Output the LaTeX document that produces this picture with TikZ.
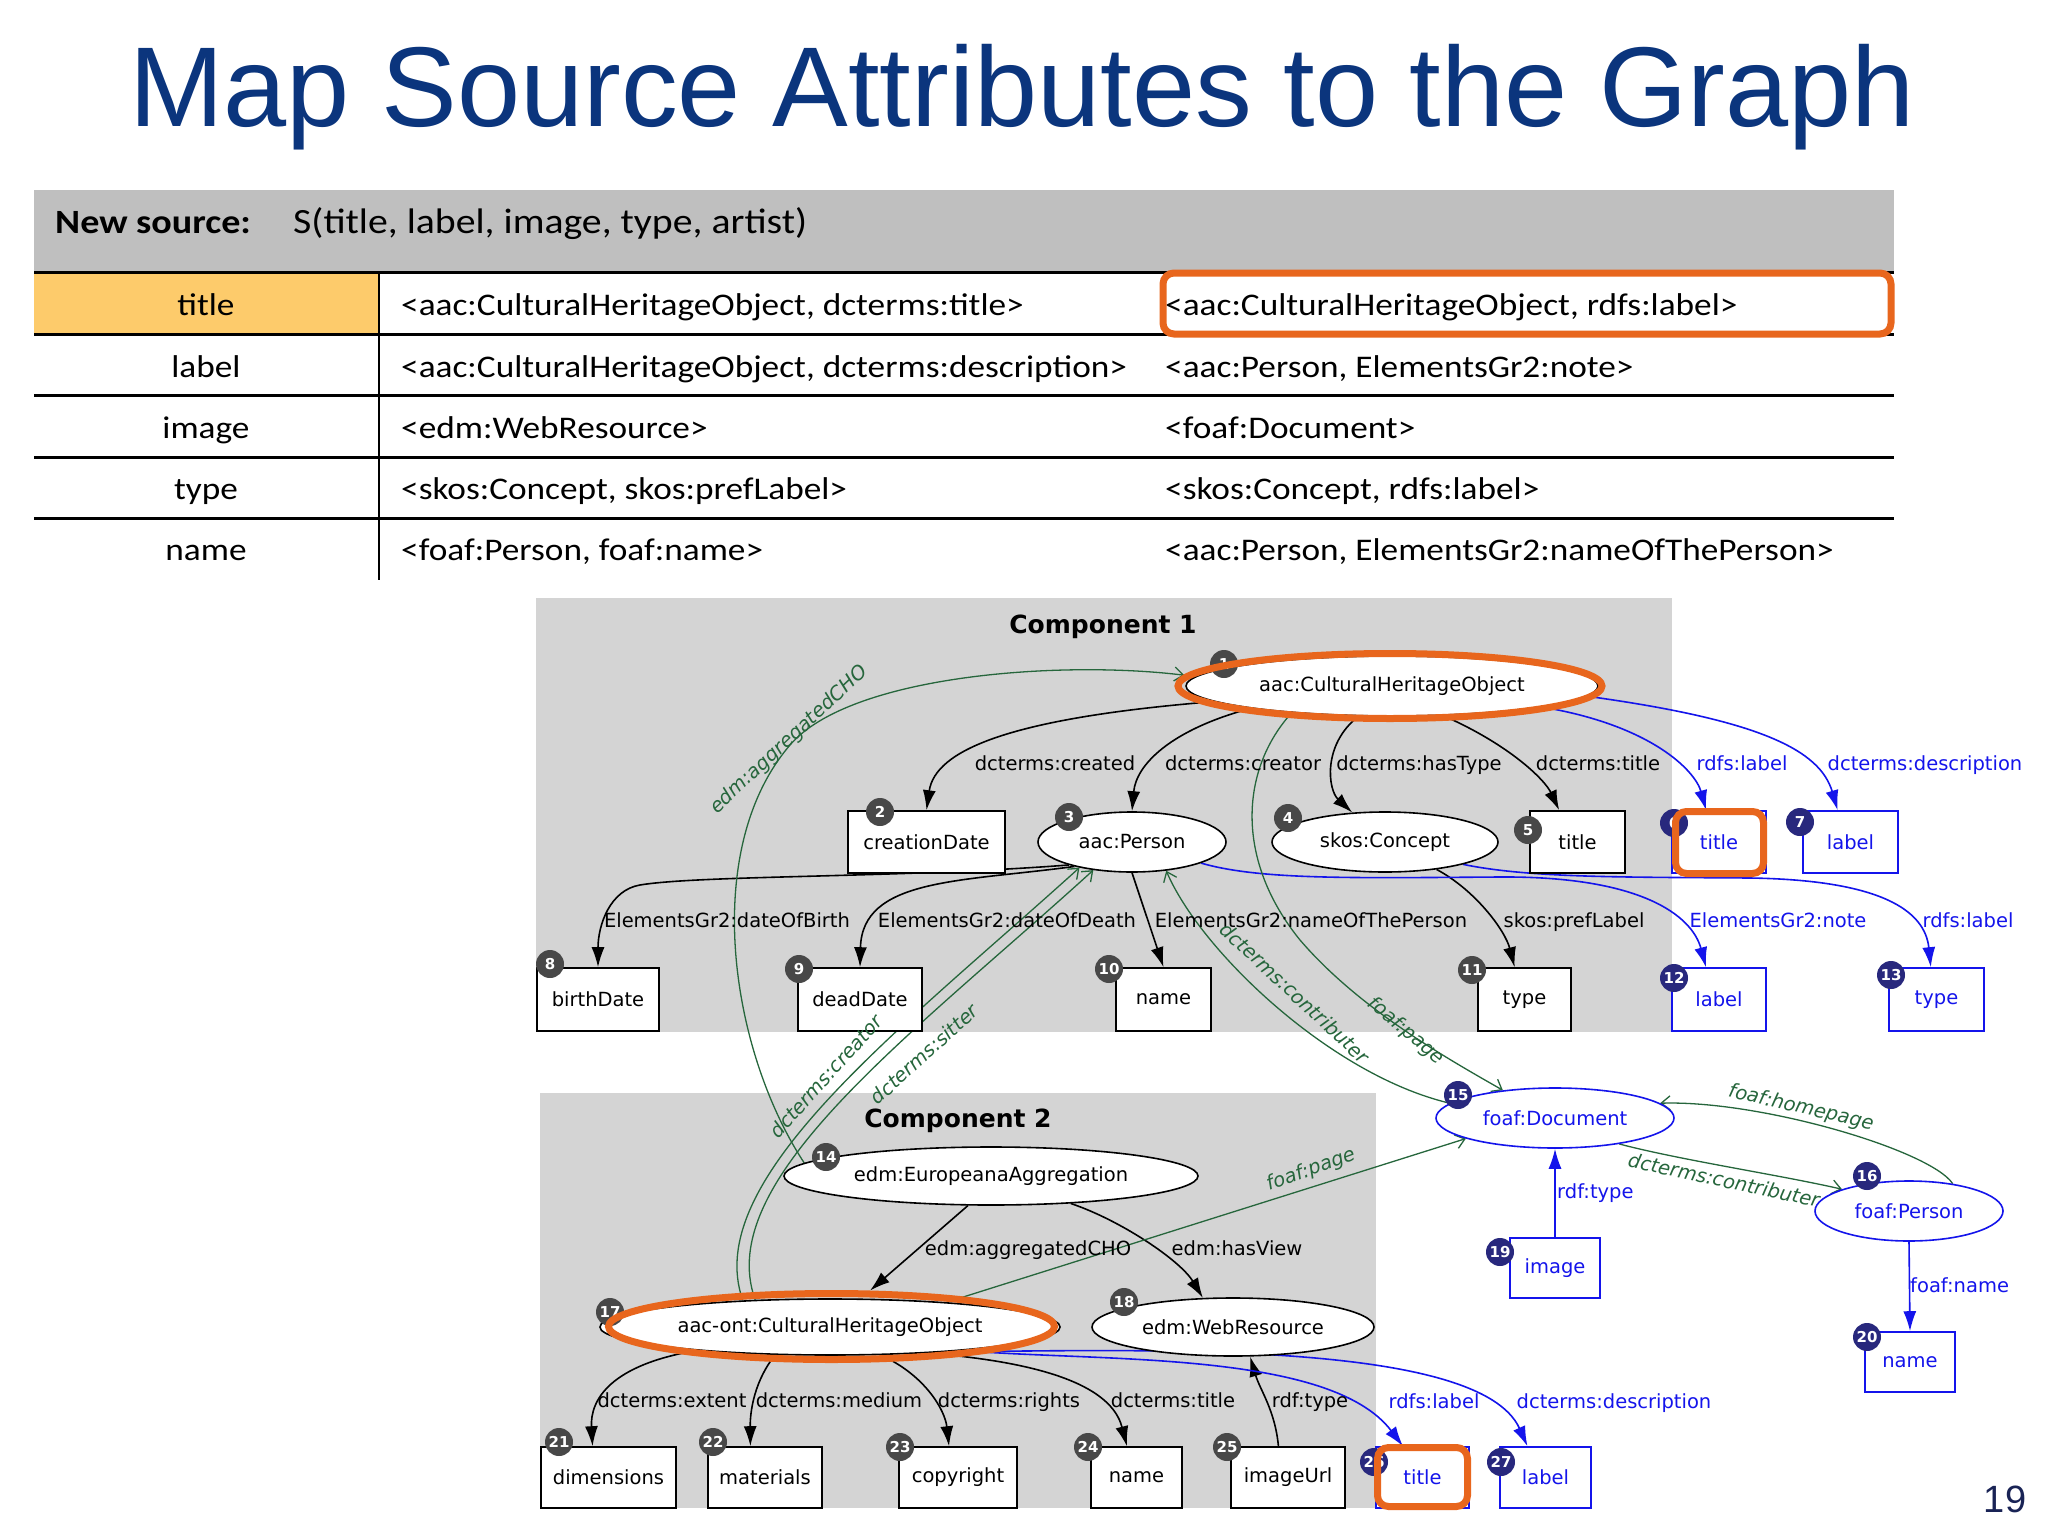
\documentclass[tikz,border=0pt]{standalone}
\usepackage{fontspec}
\setmainfont{DejaVu Sans}
\newfontfamily\titlefont{Liberation Sans}
\newfontfamily\tabfont{Carlito}[FakeStretch=1.12]
\usetikzlibrary{shapes.geometric,arrows.meta}
\definecolor{titleblue}{RGB}{11,53,125}
\definecolor{hdrgrey}{RGB}{191,191,191}
\definecolor{compgrey}{RGB}{212,212,212}
\definecolor{hlorange}{RGB}{232,102,29}
\definecolor{cellorange}{RGB}{253,203,107}
\definecolor{edgegreen}{RGB}{38,102,60}
\definecolor{eblue}{RGB}{20,20,235}
\definecolor{badgegrey}{RGB}{72,72,72}
\definecolor{badgenavy}{RGB}{40,40,125}
\definecolor{pagenum}{RGB}{25,35,85}
\pgfdeclarelayer{bg}
\pgfdeclarelayer{edges}
\pgfdeclarelayer{fg}
\pgfsetlayers{bg,edges,main,fg}
\tikzset{
 gtext/.style={font=\fontsize{19.5}{22}\selectfont},
 boxnode/.style={draw=black, fill=white, line width=1.6pt, inner sep=0pt, gtext},
 ellnode/.style={ellipse, draw=black, fill=white, line width=1.6pt, inner sep=0pt, gtext},
 bluebox/.style={boxnode, draw=eblue, text=eblue},
 blueell/.style={ellnode, draw=eblue, text=eblue},
 badge/.style={circle, fill=badgegrey, text=white, inner sep=0pt, minimum size=28pt, font=\fontsize{15}{15}\selectfont\bfseries},
 navybadge/.style={badge, fill=badgenavy},
 bedge/.style={draw=black, line width=1.6pt, -{Latex[length=20pt,width=13pt]}},
 blueedge/.style={draw=eblue, line width=1.6pt, -{Latex[length=20pt,width=13pt]}},
 gedge/.style={draw=edgegreen, line width=1.3pt, -{Straight Barb[length=9pt,width=14pt]}},
 elabel/.style={gtext, anchor=base, inner sep=0pt},
 blabel/.style={elabel, text=eblue},
 glabel/.style={text=edgegreen, font=\fontsize{19.5}{22}\selectfont\itshape, inner sep=0pt},
 hlell/.style={ellipse, draw=hlorange, line width=7pt, inner sep=0pt},
 hlbox/.style={draw=hlorange, line width=7pt, rounded corners=11pt, inner sep=0pt},
 tabtext/.style={font=\tabfont\fontsize{31.5}{35}\selectfont, anchor=base, inner sep=0pt},
 tabhead/.style={font=\tabfont\fontsize{35.5}{39}\selectfont, anchor=base west, inner sep=0pt},
}
\begin{document}
\begin{tikzpicture}[x=1pt,y=-1pt]
\useasboundingbox (0,0) rectangle (2048,1536);
\begin{pgfonlayer}{bg}
\fill[white] (0,0) rectangle (2048,1536);
\fill[hdrgrey] (34,190) rectangle (1894,271);
\fill[cellorange] (34,272) rectangle (379,334);
\fill[compgrey] (536,598) rectangle (1672,1032);
\fill[compgrey] (540,1093) rectangle (1376,1508);
\end{pgfonlayer}

% title
\node[font=\titlefont\fontsize{113.5}{118}\selectfont, text=titleblue, anchor=base, inner sep=0pt] (title) at (1022,127) {Map Source Attributes to the Graph};

% table
\node[tabhead, font=\tabfont\bfseries\fontsize{34}{38}\selectfont] (hdra) at (55,233) {New source:};
\node[tabhead] (hdrb) at (293,233) {S(title, label, image, type, artist)};
\draw[line width=3pt] (34,272) -- (1894,272);
\draw[line width=3pt] (34,334) -- (1894,334);
\draw[line width=3pt] (34,395) -- (1894,395);
\draw[line width=3pt] (34,457) -- (1894,457);
\draw[line width=3pt] (34,518) -- (1894,518);
\draw[line width=2pt] (379,272) -- (379,580);
\node[tabtext] (ra1) at (206,315) {title};
\node[tabtext] (ra2) at (206,377) {label};
\node[tabtext] (ra3) at (206,438) {image};
\node[tabtext] (ra4) at (206,499) {type};
\node[tabtext] (ra5) at (206,560) {name};
\node[tabtext, anchor=base west] (rb1) at (401,315) {<aac:CulturalHeritageObject, dcterms:title>};
\node[tabtext, anchor=base west] (rb2) at (401,377) {<aac:CulturalHeritageObject, dcterms:description>};
\node[tabtext, anchor=base west] (rb3) at (401,438) {<edm:WebResource>};
\node[tabtext, anchor=base west] (rb4) at (401,499) {<skos:Concept, skos:prefLabel>};
\node[tabtext, anchor=base west] (rb5) at (401,560) {<foaf:Person, foaf:name>};
\node[tabtext, anchor=base west] (rc1) at (1165,315) {<aac:CulturalHeritageObject, rdfs:label>};
\node[tabtext, anchor=base west] (rc2) at (1165,377) {<aac:Person, ElementsGr2:note>};
\node[tabtext, anchor=base west] (rc3) at (1165,438) {<foaf:Document>};
\node[tabtext, anchor=base west] (rc4) at (1165,499) {<skos:Concept, rdfs:label>};
\node[tabtext, anchor=base west] (rc5) at (1165,560) {<aac:Person, ElementsGr2:nameOfThePerson>};
\begin{pgfonlayer}{fg}
\node[hlbox, minimum width=728pt, minimum height=61pt] (hlrow) at (1527,303.5) {};
\end{pgfonlayer}

% component titles
\node[font=\bfseries\fontsize{25}{28}\selectfont, anchor=base, inner sep=0pt] (comp1) at (1103,633) {Component 1};
\node[font=\bfseries\fontsize{25}{28}\selectfont, anchor=base, inner sep=0pt] (comp2) at (958,1127) {Component 2};

% nodes component 1
\node[ellnode, minimum width=412pt, minimum height=60pt] (n1) at (1392,686) {aac:CulturalHeritageObject};
\node[boxnode, minimum width=157pt, minimum height=62pt] (n2) at (926.5,842) {creationDate};
\node[ellnode, minimum width=188pt, minimum height=60pt] (n3) at (1132,842) {aac:Person};
\node[ellnode, minimum width=226pt, minimum height=60pt] (n4) at (1385,842) {skos:Concept};
\node[boxnode, minimum width=95pt, minimum height=62pt] (n5) at (1577.5,842) {title};
\node[bluebox, minimum width=94pt, minimum height=62pt] (n6) at (1719,842) {title};
\node[bluebox, minimum width=95pt, minimum height=62pt] (n7) at (1850.5,842) {label};
\node[boxnode, minimum width=122pt, minimum height=63pt] (n8) at (598,999.5) {birthDate};
\node[boxnode, minimum width=124pt, minimum height=63pt] (n9) at (860,999.5) {deadDate};
\node[boxnode, minimum width=95pt, minimum height=63pt] (n10) at (1163.5,999.5) {name};
\node[boxnode, minimum width=93pt, minimum height=63pt] (n11) at (1524.5,999.5) {type};
\node[bluebox, minimum width=94pt, minimum height=63pt] (n12) at (1719,999.5) {label};
\node[bluebox, minimum width=95pt, minimum height=63pt] (n13) at (1936.5,999.5) {type};
% nodes component 2 and others
\node[ellnode, minimum width=414pt, minimum height=58pt] (n14) at (991,1176) {edm:EuropeanaAggregation};
\node[blueell, minimum width=238pt, minimum height=60pt] (n15) at (1555,1118) {foaf:Document};
\node[blueell, minimum width=188pt, minimum height=60pt] (n16) at (1909,1211) {foaf:Person};
\node[ellnode, minimum width=460pt, minimum height=56pt] (n17) at (830,1327) {aac-ont:CulturalHeritageObject};
\node[ellnode, minimum width=282pt, minimum height=58pt] (n18) at (1233,1327) {edm:WebResource};
\node[bluebox, minimum width=90pt, minimum height=60pt] (n19) at (1555,1268) {image};
\node[bluebox, minimum width=90pt, minimum height=60pt] (n20) at (1910,1362) {name};
\node[boxnode, minimum width=135pt, minimum height=61pt] (n21) at (608.5,1477.5) {dimensions};
\node[boxnode, minimum width=114pt, minimum height=61pt] (n22) at (765,1477.5) {materials};
\node[boxnode, minimum width=118pt, minimum height=61pt] (n23) at (958,1477.5) {copyright};
\node[boxnode, minimum width=91pt, minimum height=61pt] (n24) at (1136.5,1477.5) {name};
\node[boxnode, minimum width=114pt, minimum height=61pt] (n25) at (1288,1477.5) {imageUrl};
\node[bluebox, minimum width=93pt, minimum height=61pt] (n26) at (1422.5,1477.5) {title};
\node[bluebox, minimum width=91pt, minimum height=61pt] (n27) at (1545.5,1477.5) {label};

% badges
\node[badge] (b1) at (1224,664) {1};
\node[badge] (b2) at (880,812) {2};
\node[badge] (b3) at (1069,817) {3};
\node[badge] (b4) at (1288,818) {4};
\node[badge] (b5) at (1528,830) {5};
\node[navybadge] (b6) at (1674,823) {6};
\node[navybadge] (b7) at (1800,822) {7};
\node[badge] (b8) at (550,964) {8};
\node[badge] (b9) at (799,969) {9};
\node[badge] (b10) at (1109,969) {10};
\node[badge] (b11) at (1472,970) {11};
\node[navybadge] (b12) at (1674,978) {12};
\node[navybadge] (b13) at (1891,975) {13};
\node[badge] (b14) at (826,1157) {14};
\node[navybadge] (b15) at (1458,1095) {15};
\node[navybadge] (b16) at (1867,1176) {16};
\node[badge] (b17) at (610,1312) {17};
\node[badge] (b18) at (1124,1302) {18};
\node[navybadge] (b19) at (1500,1252) {19};
\node[navybadge] (b20) at (1867,1337) {20};
\node[badge] (b21) at (559,1442) {21};
\node[badge] (b22) at (713,1442) {22};
\node[badge] (b23) at (900,1447) {23};
\node[badge] (b24) at (1088,1447) {24};
\node[badge] (b25) at (1227,1447) {25};
\node[navybadge] (b26) at (1374,1462) {26};
\node[navybadge] (b27) at (1501,1462) {27};

% highlights
\begin{pgfonlayer}{fg}
\node[hlell, minimum width=424pt, minimum height=65pt] (h1) at (1390,686) {};
\node[hlell, minimum width=446pt, minimum height=66pt] (h17) at (831.5,1326.5) {};
\node[hlbox, minimum width=88pt, minimum height=62pt] (h6) at (1719.5,842.5) {};
\node[hlbox, minimum width=90pt, minimum height=59pt] (h26) at (1422.5,1477) {};
\end{pgfonlayer}

% edges
\begin{pgfonlayer}{edges}
\draw[bedge] (n1.185) .. controls (1010,718) and (935,750) .. (n2.north);
\draw[bedge] (n1.189) .. controls (1170,730) and (1136,765) .. (n3.north);
\draw[bedge] (n1.222) .. controls (1322,745) and (1328,790) .. (n4.138);
\draw[bedge] (n1.330) .. controls (1510,745) and (1545,780) .. (n5.120);
\draw[bedge] (n3.200) .. controls (900,878) and (700,875) .. (640,885) .. controls (610,890) and (598,925) .. (n8.north);
\draw[bedge] (n3.203) .. controls (960,882) and (862,878) .. (n9.north);
\draw[bedge] (n3.south) -- (n10.north);
\draw[bedge] (n4.332) .. controls (1475,890) and (1505,930) .. (n11.107);
\draw[blueedge] (n1.352) .. controls (1650,725) and (1695,770) .. (n6.112);
\draw[blueedge] (n1.357) .. controls (1760,720) and (1820,750) .. (n7.112);
\draw[blueedge] (n3.343) .. controls (1260,880) and (1350,878) .. (1500,877) .. controls (1640,876) and (1692,915) .. (n12.112);
\draw[blueedge] (n4.344) .. controls (1530,878) and (1620,877) .. (1750,878) .. controls (1880,880) and (1925,910) .. (n13.100);
\draw[bedge] (n14.232) -- (h17.43);
\draw[bedge] (n14.341) .. controls (1120,1220) and (1180,1260) .. (n18.136);
\draw[bedge] (n17.190) .. controls (610,1365) and (590,1400) .. (n21.117);
\draw[bedge] (n17.207) .. controls (755,1380) and (750,1410) .. (n22.115);
\draw[bedge] (n17.331) .. controls (925,1375) and (945,1410) .. (n23.106);
\draw[bedge] (n17.345) .. controls (1080,1365) and (1115,1400) .. (n24.107);
\draw[bedge] (n25.107) .. controls (1275,1410) and (1260,1390) .. (n18.300);
\draw[blueedge] (n17.350) .. controls (1100,1362) and (1330,1350) .. (n26.122);
\draw[blueedge] (n17.348) .. controls (1150,1350) and (1480,1340) .. (n27.120);
\draw[blueedge] (n19.north) -- (n15.south);
\draw[blueedge] (n16.south) -- (n20.north);
\draw[gedge] (n14.176) .. controls (730,1050) and (700,850) .. (790,745) .. controls (850,675) and (1060,660) .. (h1.177);
\draw[gedge] (n17.163) .. controls (700,1180) and (900,1030) .. (n3.206);
\draw[gedge] (n17.160) .. controls (712,1180) and (912,1035) .. (n3.216);
\draw[gedge] (n15.172) .. controls (1330,1075) and (1200,950) .. (n3.320);
\draw[gedge] (n1.195) .. controls (1240,770) and (1235,860) .. (1300,940) .. controls (1360,1010) and (1450,1060) .. (n15.152);
\draw[gedge] (n17.12) -- (n15.193);
\draw[gedge] (n16.32) .. controls (1930,1150) and (1760,1100) .. (n15.8);
\draw[gedge] (n15.338) .. controls (1680,1160) and (1780,1175) .. (n16.162);
\end{pgfonlayer}

% edge labels
\node[elabel] (l1) at (1055,770) {dcterms:created};
\node[elabel] (l2) at (1243,770) {dcterms:creator};
\node[elabel] (l3) at (1419,770) {dcterms:hasType};
\node[elabel] (l4) at (1598,770) {dcterms:title};
\node[blabel] (l5) at (1742,770) {rdfs:label};
\node[blabel] (l6) at (1925,770) {dcterms:description};
\node[elabel] (l7) at (727,927) {ElementsGr2:dateOfBirth};
\node[elabel] (l8) at (1007,927) {ElementsGr2:dateOfDeath};
\node[elabel] (l9) at (1311,927) {ElementsGr2:nameOfThePerson};
\node[elabel] (l10) at (1574,927) {skos:prefLabel};
\node[blabel] (l11) at (1778,927) {ElementsGr2:note};
\node[blabel] (l12) at (1968,927) {rdfs:label};
\node[elabel] (l13) at (1028,1255) {edm:aggregatedCHO};
\node[elabel] (l14) at (1237,1255) {edm:hasView};
\node[elabel] (l15) at (672,1407) {dcterms:extent};
\node[elabel] (l16) at (839,1407) {dcterms:medium};
\node[elabel] (l17) at (1009,1407) {dcterms:rights};
\node[elabel] (l18) at (1173,1407) {dcterms:title};
\node[elabel] (l19) at (1310,1407) {rdf:type};
\node[blabel] (l20) at (1434,1408) {rdfs:label};
\node[blabel] (l21) at (1614,1408) {dcterms:description};
\node[blabel, anchor=base west] (l22) at (1557,1198) {rdf:type};
\node[blabel, anchor=base west] (l23) at (1910,1292) {foaf:name};
\node[glabel, rotate=43] (g1) at (789,740) {edm:aggregatedCHO};
\node[glabel, rotate=48] (g2) at (826,1076) {dcterms:creator};
\node[glabel, rotate=42] (g3) at (924,1054) {dcterms:sitter};
\node[glabel, rotate=-43] (g4) at (1295,993) {dcterms:contributer};
\node[glabel, rotate=-40] (g5) at (1406,1031) {foaf:page};
\node[glabel, rotate=20] (g6) at (1311,1170) {foaf:page};
\node[glabel, rotate=-13] (g7) at (1801,1108) {foaf:homepage};
\node[glabel, rotate=-12] (g8) at (1724,1180) {dcterms:contributer};

\node[font=\titlefont\fontsize{38}{40}\selectfont, text=pagenum, anchor=base, inner sep=0pt] (pg) at (2005,1512) {19};
\end{tikzpicture}
\end{document}
